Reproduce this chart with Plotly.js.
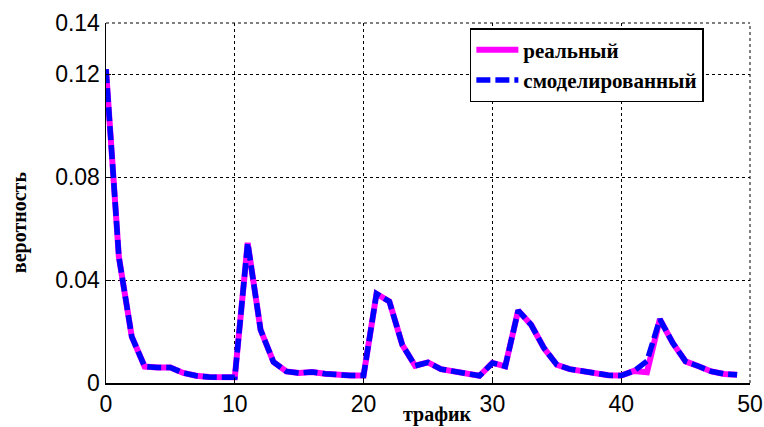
<!DOCTYPE html>
<html>
<head>
<meta charset="utf-8">
<script src="https://cdn.plot.ly/plotly-3.0.1.min.js"></script>
<style>html,body{margin:0;padding:0;background:#fff}#chart{width:764px;height:427px}</style>
</head>
<body>
<div id="chart"></div>
<script>
// traffic values (x axis)
const traffic = [0,1,2,3,4,5,6,7,8,9,10,11,12,13,14,15,16,17,18,19,20,21,22,23,24,25,26,27,28,29,30,31,32,33,34,35,36,37,38,39,40,41,42,43,44,45,46,47,48,49];
// real probability
const realProb = [0.122,0.049,0.018,0.0064,0.006,0.006,0.0039,0.0028,0.0023,0.0022,0.0022,0.0545,0.0207,0.0082,0.0045,0.0039,0.0043,0.0036,0.003,0.0029,0.0029,0.0347,0.0317,0.0149,0.0067,0.008,0.0054,0.0045,0.0032,0.0028,0.0078,0.0065,0.0282,0.0227,0.0136,0.0071,0.0054,0.0045,0.0036,0.003,0.0029,0.0047,0.0042,0.0248,0.0156,0.0084,0.0065,0.0045,0.0035,0.0032];
// modelled probability
const modelProb = [0.122,0.049,0.018,0.0064,0.006,0.006,0.0039,0.0028,0.0023,0.0022,0.0022,0.0545,0.0207,0.0082,0.0045,0.0039,0.0043,0.0036,0.003,0.0029,0.0029,0.0347,0.0317,0.0149,0.0067,0.008,0.0054,0.0045,0.0032,0.0028,0.0078,0.0065,0.0282,0.0227,0.0136,0.0071,0.0054,0.0045,0.0036,0.003,0.0029,0.0047,0.0085,0.0248,0.0156,0.0084,0.0065,0.0045,0.0035,0.0032];
const xTicks = [0,10,20,30,40,50];
const xTickText = ['0','10','20','30','40','50'];
const yTicks = [0,0.04,0.08,0.12,0.14];
const yTickText = ['0','0.04','0.08','0.12','0.14'];
const seriesNames = ['реальный','смоделированный'];

const serif = '"Liberation Serif", "Times New Roman", serif';
const sans = '"Liberation Sans", Arial, sans-serif';

const traces = [
  {x: traffic, y: realProb, type: 'scatter', mode: 'lines', name: '<b>' + seriesNames[0] + '</b>',
   line: {color: '#ff00ff', width: 6}},
  {x: traffic, y: modelProb, type: 'scatter', mode: 'lines', name: '<b>' + seriesNames[1] + '</b>',
   line: {color: '#0000ff', width: 5.5, dash: '14px,5px'}}
];

const dotted = {color: '#000', width: 1, dash: 'dot'};

const layout = {
  width: 764, height: 427,
  margin: {l: 106, r: 14, t: 23, b: 44},
  paper_bgcolor: '#fff', plot_bgcolor: '#fff',
  showlegend: true,
  legend: {x: 0.565, y: 0.986, xanchor: 'left', yanchor: 'top',
    bgcolor: '#fff', bordercolor: '#000', borderwidth: 1.5, itemwidth: 42,
    font: {family: serif, size: 21, color: '#000'}, tracegroupgap: 0},
  xaxis: {range: [0, 50], tickvals: xTicks, ticktext: xTickText,
    showgrid: true, gridcolor: '#000', griddash: 'dot', gridwidth: 1,
    showline: true, linecolor: '#000', linewidth: 1.5,
    ticks: 'inside', ticklen: 5, tickcolor: '#000', zeroline: false,
    tickfont: {family: sans, size: 23, color: '#000'}},
  yaxis: {range: [0, 0.14], tickvals: yTicks, ticktext: yTickText,
    showgrid: true, gridcolor: '#000', griddash: 'dot', gridwidth: 1,
    showline: true, linecolor: '#000', linewidth: 1.5,
    ticks: 'inside', ticklen: 5, tickcolor: '#000', zeroline: false,
    tickfont: {family: sans, size: 23, color: '#000'}},
  shapes: [
    {type: 'line', xref: 'paper', yref: 'paper', x0: 0, x1: 1, y0: 1, y1: 1, line: dotted, layer: 'below'},
    {type: 'line', xref: 'paper', yref: 'paper', x0: 1, x1: 1, y0: 0, y1: 1, line: dotted, layer: 'below'}
  ],
  annotations: [
    {text: '<b>трафик</b>', xref: 'paper', yref: 'paper', x: 0.515, y: -0.088,
     xanchor: 'center', yanchor: 'middle', showarrow: false,
     font: {family: serif, size: 20, color: '#000'}},
    {text: '<b>веротность</b>', xref: 'paper', yref: 'paper', x: -0.135, y: 0.447,
     xanchor: 'center', yanchor: 'middle', showarrow: false, textangle: -90,
     font: {family: serif, size: 20, color: '#000'}}
  ]
};

Plotly.newPlot('chart', traces, layout, {displayModeBar: false, staticPlot: true});
</script>
</body>
</html>
